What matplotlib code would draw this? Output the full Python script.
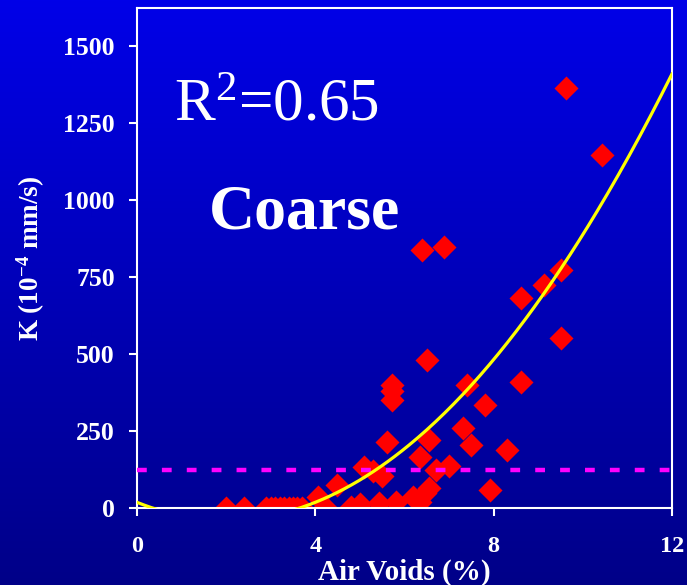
import numpy as np
import matplotlib
matplotlib.use("Agg")
import matplotlib.pyplot as plt
from matplotlib.colors import LinearSegmentedColormap

plt.rcParams['font.family'] = ['Liberation Serif', 'DejaVu Serif']
plt.rcParams['mathtext.fontset'] = 'custom'
plt.rcParams['mathtext.rm'] = 'Liberation Serif'
plt.rcParams['mathtext.it'] = 'Liberation Serif:italic'
plt.rcParams['mathtext.bf'] = 'Liberation Serif:bold'

# Data
air_voids = [2.0, 2.4, 2.9, 3.0, 3.1, 3.2, 3.3, 3.4, 3.5, 3.6, 3.7,
             4.07, 4.22, 4.49, 4.8, 5.0, 5.09, 5.3, 5.5, 5.42, 5.6,
             5.72, 5.72, 5.72, 5.8, 6.2, 6.35, 6.35, 6.45, 6.55, 6.51,
             6.55, 6.7, 7.0, 7.32, 7.41, 7.5, 7.8, 7.92, 8.31, 8.61,
             8.61, 9.12, 9.52, 9.52, 9.62, 10.43, 6.4, 6.88]
k_values = [0, 0, 0, 0, 0, 0, 0, 0, 0, 0, 0,
            37, 2, 75, 3, 12, 134, 120, 104, 15, 214,
            399, 380, 352, 18, 35, 20, 165, 50, 65, 480,
            220, 123, 135, 259, 399, 205, 334, 58, 188, 408,
            681, 724, 775, 554, 1364, 1146, 840, 848]

# quadratic trendline coefficients (a, b, c) and the criterion line
trend_coef = [14.5, -58.0, 18.5]
criterion = 125
r2_label = r'R$^{2}$=0.65'
group_label = 'Coarse'

fig = plt.figure(figsize=(6.87, 5.85), dpi=100)

# blue gradient background
bg = fig.add_axes([0, 0, 1, 1], zorder=-1)
cmap = LinearSegmentedColormap.from_list('bg', ['#0000E8', '#000088'])
bg.imshow(np.linspace(0, 1, 256).reshape(-1, 1), aspect='auto', cmap=cmap,
          extent=[0, 1, 0, 1])
bg.axis('off')

ax = fig.add_axes([0.1994, 0.1316, 0.7787, 0.8547])
ax.patch.set_alpha(0)

ax.scatter(air_voids, k_values, marker='D', s=150, color='#FF0000',
           linewidths=0, zorder=2)

ax.axhline(criterion, color='#FF00FF', lw=3.2, dashes=(2.2, 3.4),
           solid_capstyle='butt', dash_capstyle='butt', zorder=3)

xs = np.linspace(0, 12, 300)
ax.plot(xs, np.polyval(trend_coef, xs), color='#FFFF00', lw=2.3, zorder=4)

ax.set_xlim(0, 12)
ax.set_ylim(0, 1625)
ax.set_xticks([0, 4, 8, 12])
ax.set_yticks([0, 250, 500, 750, 1000, 1250, 1500])

for s in ax.spines.values():
    s.set_color('white')
    s.set_linewidth(1.5)
ax.tick_params(colors='white', direction='out', length=6, width=1.5)
ax.tick_params(axis='y', labelsize=18.5, pad=10)
ax.tick_params(axis='x', labelsize=17.5, pad=14)
for lbl in ax.get_xticklabels() + ax.get_yticklabels():
    lbl.set_fontweight('bold')

ax.set_xlabel('Air Voids (%)', color='white', fontsize=21,
              fontweight='bold', va='baseline')
ax.xaxis.set_label_coords(0.5, -0.144)
ax.set_ylabel(r'K (10$^{\mathbf{-4}}$ mm/s)', color='white', fontsize=19.5,
              fontweight='bold')
ax.yaxis.set_label_coords(-0.168, 0.5)

ax.text(0.07, 0.776, r2_label, transform=ax.transAxes, color='white',
        fontsize=44, va='baseline')
ax.text(0.135, 0.56, group_label, transform=ax.transAxes, color='white',
        fontsize=46, fontweight='bold', va='baseline')

fig.savefig('out.png', dpi=100)
